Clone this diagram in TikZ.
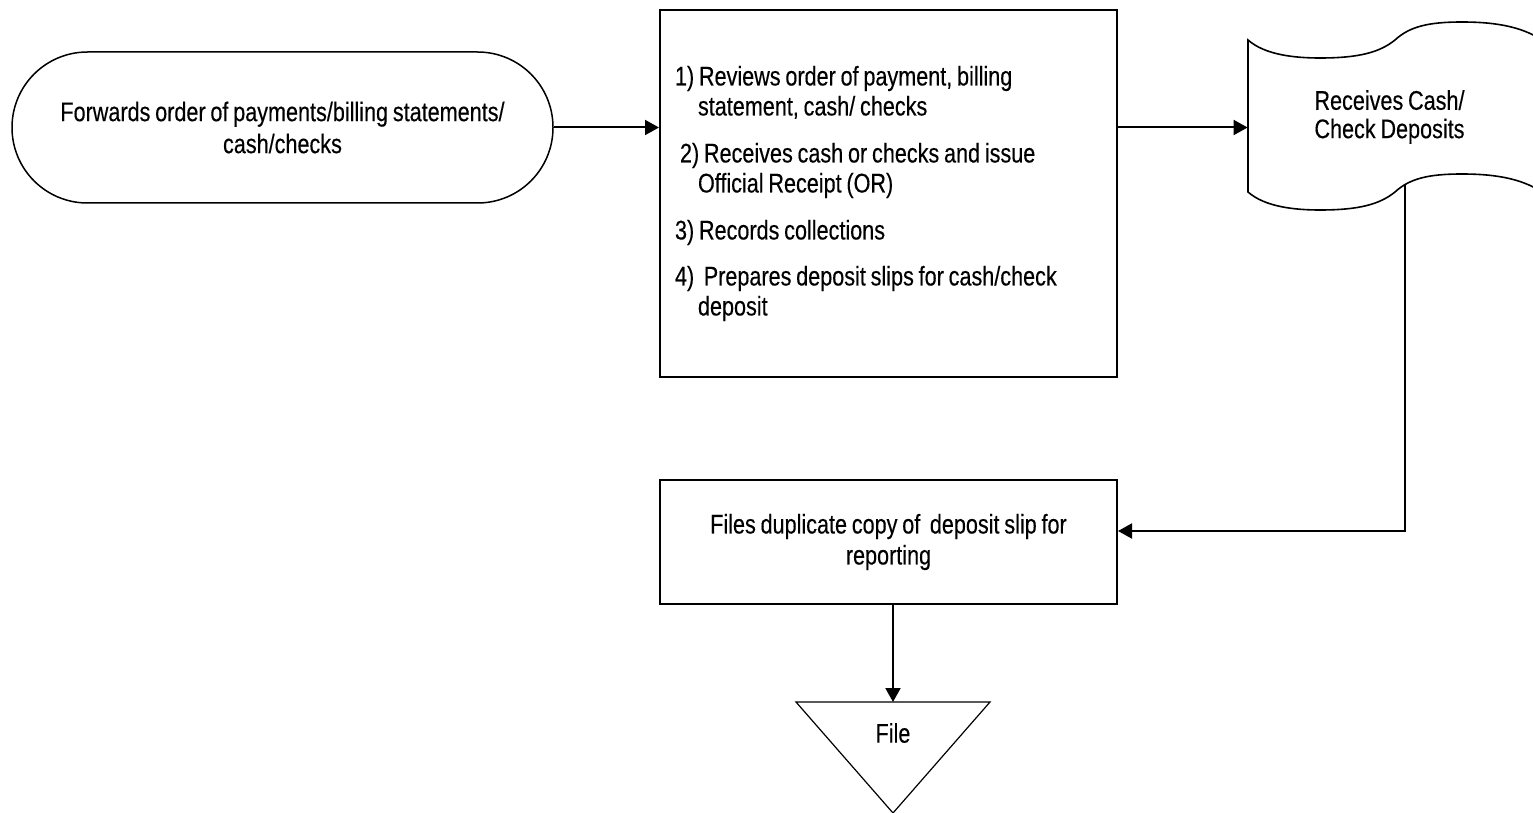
\documentclass[tikz,border=0pt]{standalone}
\usepackage{fontspec}
\setmainfont[FakeStretch=0.8,WordSpace=0.8,FakeBold=0.3]{Liberation Sans}
\usetikzlibrary{arrows.meta}
\begin{document}
\begin{tikzpicture}[x=0.5pt,y=-0.5pt,
  every node/.style={font=\fontsize{13.5}{16}\selectfont},
  arr/.style={line width=1pt,-{Triangle[length=7pt,width=7.5pt]}},
  term/.style={draw,line width=0.75pt,minimum width=270.5pt,minimum height=75.5pt,
    rounded corners=37.7pt,align=center,inner sep=0pt},
  proc/.style={draw,line width=1pt,minimum width=228.5pt,inner xsep=7.5pt},
  docst/.style={draw,line width=0.8pt},
  tri/.style={draw,line width=0.6pt}]
\useasboundingbox (0,0) rectangle (1533,813);
\begin{scope}
\clip (0,0) rectangle (1533,813);
% terminator
\node[term] (fwd) at (282.5,127.5) {Forwards order of payments/billing statements/\\cash/checks};
% process box
\node[proc,minimum height=183.5pt,text width=213.5pt,align=left,
  font=\fontsize{13.5}{15}\selectfont] (rev) at (888.5,193.5)
 {\spaceskip=0pt\xspaceskip=0pt
  1) Reviews order of payment, billing\\
  \hspace*{11.5pt}statement, cash/ checks\\[8.5pt]
  \hspace*{2.5pt}2) Receives cash or checks and issue\\
  \hspace*{11.5pt}Official Receipt (OR)\\[8.5pt]
  3) Records collections\\[8pt]
  4)\ \ Prepares deposit slips for cash/check\\
  \hspace*{11.5pt}deposit};
% document (punched tape)
\draw[docst] (1248,40) .. controls (1265,55) and (1295,58) .. (1320,58)
  .. controls (1360,58) and (1380,52) .. (1395,40)
  .. controls (1410,26) and (1430,22) .. (1462,22)
  .. controls (1500,22) and (1525,28) .. (1545,42)
  -- (1545,194)
  .. controls (1525,180) and (1500,174) .. (1462,174)
  .. controls (1430,174) and (1410,178) .. (1395,192)
  .. controls (1380,204) and (1360,210) .. (1320,210)
  .. controls (1295,210) and (1265,207) .. (1248,192) -- cycle;
\node[minimum width=148.5pt,minimum height=76pt,align=center,
  font=\fontsize{13.5}{14.2}\selectfont] (doc) at (1396.5,117)
  {\hspace*{-7pt}Receives Cash/\\\hspace*{-7pt}Check Deposits};
\coordinate (docb) at (1405,185);
% files box
\node[proc,minimum height=62pt,align=center,
  font=\fontsize{13.5}{15.5}\selectfont] (files) at (888.5,542)
  {Files duplicate copy of\ \ deposit slip for\\reporting};
% file triangle
\draw[tri] (796,702) -- (990,702) -- (893,813) -- cycle;
\coordinate (tritop) at (893,702);
\node (file) at (893,733) {File};
% connectors
\draw[arr] (fwd.east) -- (fwd.east -| rev.west);
\draw[arr] (rev.east |- fwd.east) -- (doc.west |- fwd.east);
\draw[arr] (docb) |- ([yshift=5.5pt]files.east);
\draw[arr] (tritop |- files.south) -- (tritop);
\end{scope}
\end{tikzpicture}
\end{document}
